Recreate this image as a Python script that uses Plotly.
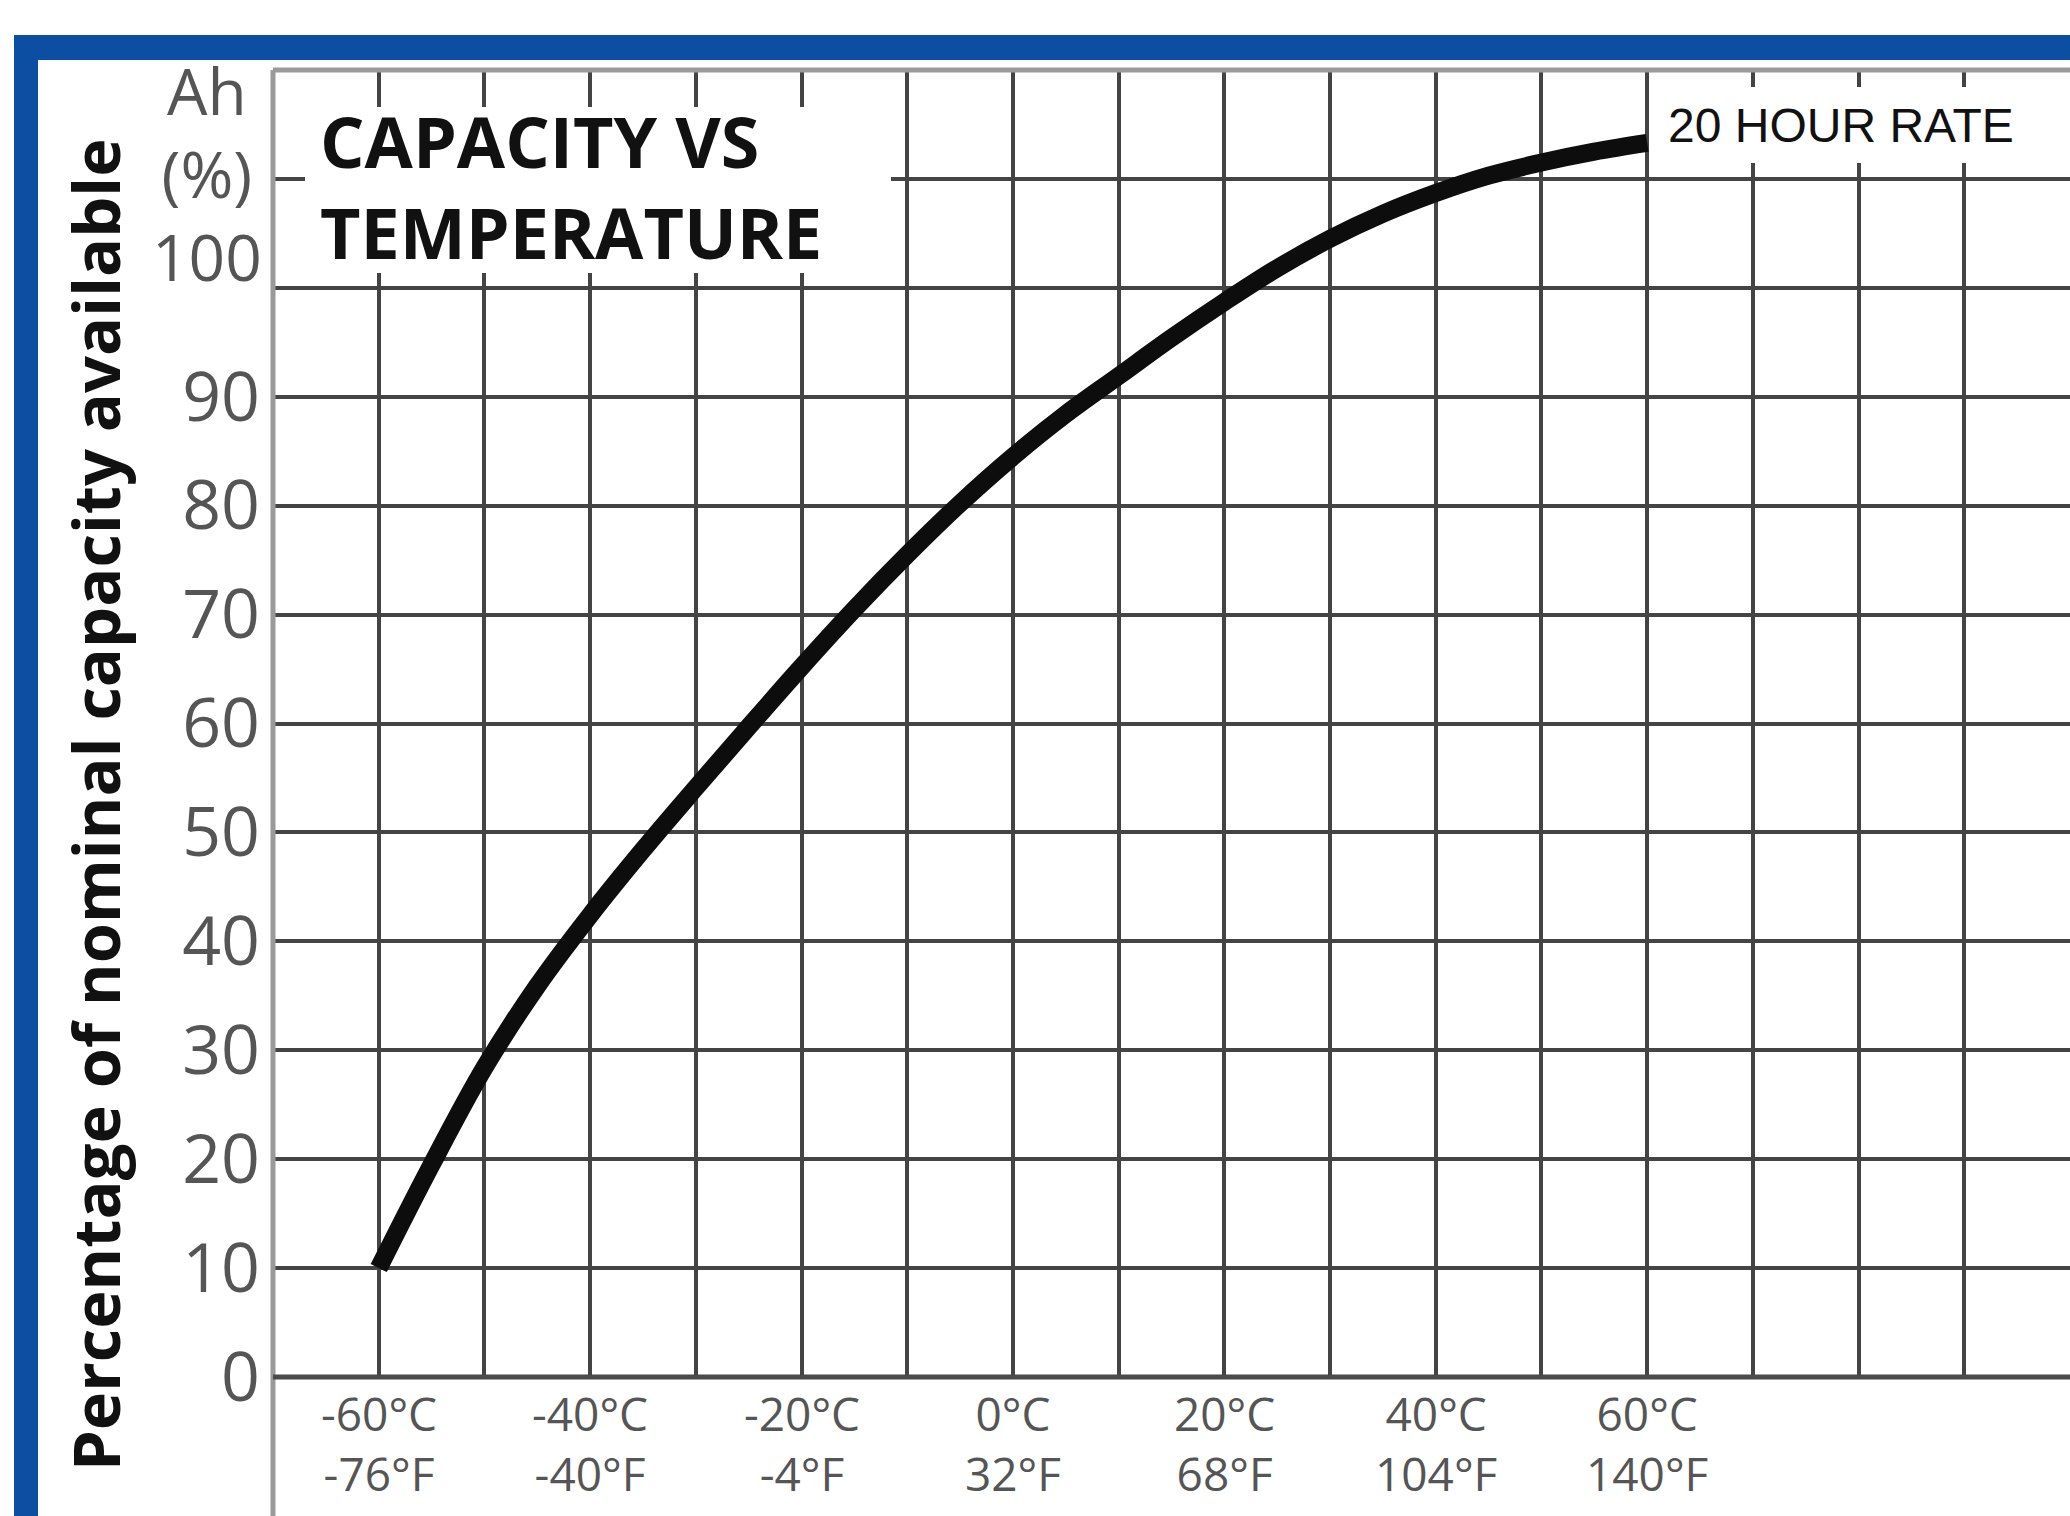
import plotly.graph_objects as go

# ---------------- data ----------------
temps_c = [-60, -55, -50, -45, -40, -35, -30, -25, -20, -15, -10, -5, 0,
           5, 10, 15, 20, 25, 30, 35, 40, 45, 50, 55, 60]
capacity_pct = [10, 19.5, 28.4, 35.9, 42.4, 48.4, 54.1, 59.7, 65.2, 70.5, 75.5,
                80.2, 84.5, 88.4, 91.9, 95.4, 98.7, 101.8, 104.5, 106.8, 108.7,
                110.3, 111.5, 112.5, 113.3]

x_label_vals = [-60, -40, -20, 0, 20, 40, 60]
x_labels_c = ["-60°C", "-40°C", "-20°C", "0°C", "20°C", "40°C", "60°C"]
x_labels_f = ["-76°F", "-40°F", "-4°F", "32°F", "68°F", "104°F", "140°F"]

y_tick_vals = [0, 10, 20, 30, 40, 50, 60, 70, 80, 90, 100, 110]
y_tick_text = ["0", "10", "20", "30", "40", "50", "60", "70", "80", "90", "", ""]
y_top_labels = ["Ah", "(%)", "100"]

title_text = "CAPACITY VS<br>TEMPERATURE"
rate_text = "20 HOUR RATE"
y_title = "Percentage of nominal capacity available"

# ---------------- layout geometry ----------------
W, H = 2070, 1516
L, R, T, B = 273, 0, 70, 139
PW = W - L - R
PH = H - T - B
BLUE = "#0b4ea2"
GRID = "#444444"
LABEL_GRAY = "#555555"


def px_x(px):
    return (px - L) / PW


def px_y(py):
    return (H - B - py) / PH


fig = go.Figure()
fig.add_trace(go.Scatter(
    x=temps_c, y=capacity_pct, mode="lines",
    line=dict(color="#0d0d0d", width=18, shape="spline", smoothing=1),
    hoverinfo="skip", showlegend=False,
))

shapes = []
# blue frame
shapes.append(dict(type="rect", xref="paper", yref="paper",
                   x0=px_x(14), x1=px_x(2090), y0=px_y(60), y1=px_y(35),
                   fillcolor=BLUE, line=dict(width=0), layer="above"))
shapes.append(dict(type="rect", xref="paper", yref="paper",
                   x0=px_x(14), x1=px_x(38), y0=px_y(1540), y1=px_y(35),
                   fillcolor=BLUE, line=dict(width=0), layer="above"))
# plot frame lines
shapes.append(dict(type="line", xref="paper", yref="paper",
                   x0=0, x1=0, y0=px_y(1540), y1=1,
                   line=dict(color="#9a9a9a", width=5), layer="above"))
shapes.append(dict(type="line", xref="paper", yref="paper",
                   x0=0, x1=1.01, y0=1, y1=1,
                   line=dict(color="#9a9a9a", width=5), layer="above"))
shapes.append(dict(type="line", xref="paper", yref="paper",
                   x0=0, x1=1.01, y0=0, y1=0,
                   line=dict(color="#4a4a4a", width=5), layer="above"))
# white boxes behind the texts
shapes.append(dict(type="rect", xref="paper", yref="paper",
                   x0=px_x(305), x1=px_x(891), y0=px_y(273), y1=px_y(107),
                   fillcolor="white", line=dict(width=0), layer="above"))
shapes.append(dict(type="rect", xref="paper", yref="paper",
                   x0=px_x(1656), x1=px_x(2090), y0=px_y(163), y1=px_y(87),
                   fillcolor="white", line=dict(width=0), layer="above"))

annotations = []
annotations.append(dict(
    text=title_text, xref="paper", yref="paper",
    x=px_x(318), y=px_y(186), xanchor="left", yanchor="middle",
    align="left", showarrow=False,
    font=dict(family="Open Sans", size=70, color="#111111", weight="bold"),
))
annotations.append(dict(
    text=rate_text, xref="paper", yref="paper",
    x=px_x(1666), y=px_y(125), xanchor="left", yanchor="middle",
    showarrow=False,
    font=dict(family="Liberation Sans, Arial", size=48, color="#111111"),
))
annotations.append(dict(
    text="<br>".join(y_top_labels), xref="paper", yref="paper",
    x=px_x(207), y=px_y(174), xanchor="center", yanchor="middle",
    align="center", showarrow=False,
    font=dict(family="Open Sans", size=64, color=LABEL_GRAY),
))
annotations.append(dict(
    text=y_title, xref="paper", yref="paper",
    x=px_x(95), y=px_y(805), xanchor="center", yanchor="middle",
    textangle=-90, showarrow=False,
    font=dict(family="Open Sans", size=65, color="#111111", weight="bold"),
))
for v, c, f in zip(x_label_vals, x_labels_c, x_labels_f):
    annotations.append(dict(
        text=c + "<br>" + f, xref="x", yref="paper", x=v, y=px_y(1443),
        xanchor="center", yanchor="middle", showarrow=False,
        font=dict(family="Open Sans", size=46, color=LABEL_GRAY),
    ))

fig.update_layout(
    width=W, height=H,
    margin=dict(l=L, r=R, t=T, b=B, pad=0),
    paper_bgcolor="white", plot_bgcolor="white",
    showlegend=False,
    shapes=shapes, annotations=annotations,
    xaxis=dict(range=[-70, 100], tick0=-70, dtick=10, showgrid=True,
               gridcolor=GRID, gridwidth=3.5, zeroline=False,
               showticklabels=False, ticks="", showline=False,
               fixedrange=True),
    yaxis=dict(range=[0, 120], tickmode="array", tickvals=y_tick_vals,
               ticktext=y_tick_text, showgrid=True, gridcolor=GRID,
               gridwidth=4, zeroline=False, ticks="", showline=False,
               ticklabelstandoff=12,
               tickfont=dict(family="Open Sans", size=68, color=LABEL_GRAY),
               fixedrange=True),
)

fig.write_html("out.html",
               config={"displayModeBar": False},
               post_script="document.body.style.margin='0';"
                           "document.body.style.padding='0';")
